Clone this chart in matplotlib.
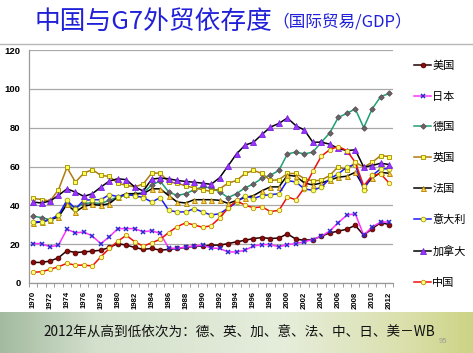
import numpy as np
import matplotlib.pyplot as plt
from matplotlib.lines import Line2D

plt.rcParams['font.family'] = ['Noto Sans CJK SC', 'DejaVu Sans']

years = list(range(1970, 2013))
tick_labels = [str(y) for y in years[::2]]

us = [10.6, 10.6, 11.3, 13.0, 16.6, 15.7, 16.0, 16.4, 16.9, 18.3,
      20.3, 19.5, 18.3, 17.3, 17.8, 16.9, 17.3, 17.8, 18.3, 19.0,
      19.0, 19.5, 19.5, 20.3, 21.2, 22.0, 22.9, 23.4, 22.9, 23.2,
      25.3, 22.6, 22.0, 22.4, 24.1, 25.8, 26.7, 27.7, 29.7, 24.6,
      28.0, 31.1, 30.1]
japan = [20.3, 20.3, 18.6, 19.5, 27.7, 25.8, 26.3, 24.1, 20.3, 23.8,
         28.0, 28.0, 28.0, 26.3, 27.0, 25.5, 18.0, 17.8, 18.6, 19.0,
         19.5, 18.0, 17.8, 16.0, 16.0, 16.9, 19.0, 19.8, 19.8, 18.6,
         19.8, 20.3, 21.2, 22.4, 24.1, 26.8, 31.1, 34.9, 35.7, 24.6,
         28.9, 31.4, 31.4]
germany = [34.4, 33.7, 32.6, 34.9, 40.9, 38.6, 40.9, 41.4, 40.9, 42.6,
           44.3, 45.1, 46.0, 46.5, 50.5, 52.5, 46.8, 45.1, 46.0, 48.0,
           49.5, 49.0, 47.0, 44.0, 46.0, 49.0, 51.0, 54.0, 55.5, 58.0,
           66.5, 67.4, 66.5, 67.4, 72.5, 77.3, 85.3, 87.3, 89.7, 80.0,
           89.7, 96.0, 97.6]
uk = [43.6, 43.0, 42.2, 48.0, 59.5, 52.0, 56.6, 58.4, 55.4, 54.9,
      51.4, 50.3, 49.5, 51.0, 56.6, 56.6, 52.0, 51.4, 50.0, 49.0,
      48.0, 47.2, 48.5, 51.4, 52.8, 56.4, 58.0, 56.4, 52.8, 53.2,
      56.4, 56.4, 53.8, 52.5, 53.0, 55.4, 60.0, 58.0, 62.2, 59.7,
      62.2, 65.6, 65.1]
france = [30.9, 31.5, 32.6, 34.0, 40.5, 36.6, 39.5, 40.5, 40.0, 40.9,
          44.3, 46.0, 46.0, 46.0, 48.5, 48.5, 45.0, 41.7, 41.2, 42.9,
          42.9, 42.9, 42.6, 41.0, 42.5, 44.0, 45.0, 47.5, 49.5, 49.5,
          55.5, 55.0, 51.5, 50.5, 51.5, 53.0, 54.5, 55.0, 57.0, 49.5,
          54.0, 57.0, 56.5]
italy = [31.5, 31.5, 32.6, 35.0, 42.6, 38.3, 42.6, 42.9, 42.9, 45.5,
         44.5, 45.5, 45.0, 44.0, 41.7, 44.0, 37.4, 36.6, 36.6, 38.3,
         36.6, 35.0, 35.7, 38.5, 41.5, 45.0, 43.5, 45.0, 45.5, 46.0,
         52.8, 52.0, 48.5, 47.7, 49.4, 53.7, 56.2, 59.7, 61.0, 48.0,
         55.4, 58.8, 58.8]
canada = [41.7, 41.2, 42.2, 45.1, 48.5, 46.8, 44.6, 46.0, 49.4, 52.5,
          53.7, 53.2, 49.4, 47.4, 53.5, 54.0, 53.7, 52.8, 52.3, 51.9,
          51.4, 50.8, 54.2, 60.3, 66.5, 71.0, 72.5, 76.5, 80.3, 82.2,
          85.0, 81.0, 78.8, 72.5, 72.5, 71.5, 69.3, 68.2, 68.6, 59.7,
          60.5, 61.7, 61.0]
china = [5.5, 5.8, 7.0, 8.4, 10.1, 9.2, 9.2, 8.8, 13.5, 17.8,
         21.5, 24.6, 21.2, 19.0, 20.7, 22.5, 26.0, 29.0, 31.0, 29.9,
         28.7, 29.5, 33.5, 38.5, 42.5, 40.0, 38.8, 39.2, 36.8, 37.4,
         44.3, 42.9, 49.0, 57.5, 65.3, 68.7, 70.3, 68.2, 62.2, 50.0,
         55.4, 56.2, 51.5]

names = ['美国', '日本', '德国', '英国', '法国', '意大利', '加拿大', '中国']
values = [us, japan, germany, uk, france, italy, canada, china]
# line colour, marker, marker face, marker edge, marker size
styles = [
    ('#200000', 'o', '#8b0a0a', '#5a0000', 3.4),
    ('#ff33ff', 'x', '#2a2ad0', '#2a2ad0', 3.4),
    ('#1fa070', 'D', '#6e6268', '#5a5058', 2.8),
    ('#b07a10', 's', '#ffff55', '#a08c00', 3.4),
    ('#000000', '^', '#ffd040', '#b08000', 3.6),
    ('#1a1aff', 'o', '#ffff66', '#a0a000', 3.4),
    ('#000000', '^', '#9a33ff', '#7a22dd', 3.8),
    ('#ee1010', 'o', '#ffff88', '#c09000', 3.2),
]

fig = plt.figure(figsize=(4.73, 3.53), dpi=100)
W, H = 473, 353

# bottom band
band = fig.add_axes([0, 0, 1, 41 / H])
grad = np.linspace(0, 1, 200)
stops = np.array([[0.00, 0.64, 0.73, 0.63],
                  [0.20, 0.83, 0.88, 0.80],
                  [0.60, 0.90, 0.93, 0.86],
                  [0.85, 0.86, 0.88, 0.68],
                  [1.00, 0.80, 0.83, 0.52]])
rgb = np.stack([np.interp(grad, stops[:, 0], stops[:, i]) for i in (1, 2, 3)], axis=-1)
band.imshow(rgb[None, :, :], aspect='auto', extent=[0, 1, 0, 1])
band.set_axis_off()

fig.text(35 / W, 1 - 22 / H, '中国与G7外贸依存度', color='#2020d8', fontsize=18.5,
         ha='left', va='center')
fig.text(272 / W, 1 - 22 / H, '（国际贸易/GDP）', color='#2020d8', fontsize=12,
         ha='left', va='center')
fig.add_artist(Line2D([0, 1], [1 - 43.5 / H] * 2, color='#b8b8b8', lw=1.0))

fig.text(239 / W, 1 - 333 / H, '2012年从高到低依次为：德、英、加、意、法、中、日、美－WB',
         fontsize=9.8, ha='center', va='center', color='#111111')
fig.text(443 / W, 1 - 341 / H, '95', fontsize=5.5, color='#9a9a9a', ha='center', va='center')

ax = fig.add_axes([28.8 / W, 1 - 283 / H, (393.4 - 28.8) / W, (283 - 50) / H])
x = np.arange(len(years))
handles = []
for name, vals, (lc, mk, mf, me, ms) in zip(names, values, styles):
    if mk == 'x':
        h, = ax.plot(x, vals, color=lc, lw=1.1, marker=mk, ms=ms, mec=me, mew=1.1)
    else:
        h, = ax.plot(x, vals, color=lc, lw=1.1, marker=mk, ms=ms, mfc=mf, mec=me, mew=0.6)
    handles.append(h)

ax.set_xlim(-0.5, len(years) - 0.5)
ax.set_ylim(0, 120)
ax.set_yticks(range(0, 121, 20))
ax.yaxis.grid(True, color='#a8a8a8', lw=0.9)
ax.set_axisbelow(True)
ax.tick_params(axis='y', length=0, pad=6)
for lab in ax.get_yticklabels():
    lab.set_fontfamily('Liberation Sans')
    lab.set_fontweight('bold')
    lab.set_fontsize(6.8)

ax.set_xticks(x[::2])
ax.set_xticklabels(tick_labels, rotation=90, fontsize=5.6, fontweight='bold',
                   fontfamily='Liberation Sans')
ax.set_xticks(np.arange(-0.5, len(years), 1), minor=True)
ax.tick_params(axis='x', which='major', length=0, pad=6)
ax.tick_params(axis='x', which='minor', length=3, color='#9a9a9a', width=0.7)
for s in ('top', 'right'):
    ax.spines[s].set_visible(False)
for s in ('left', 'bottom'):
    ax.spines[s].set_color('#9a9a9a')
    ax.spines[s].set_linewidth(0.9)

leg = fig.legend(handles, names, loc='upper left',
                 bbox_to_anchor=(410 / W, 1 - 56 / H), frameon=False,
                 fontsize=8, handlelength=1.5, handletextpad=0.1,
                 labelspacing=1.86, borderaxespad=0)

fig.savefig('out.png', dpi=100)
